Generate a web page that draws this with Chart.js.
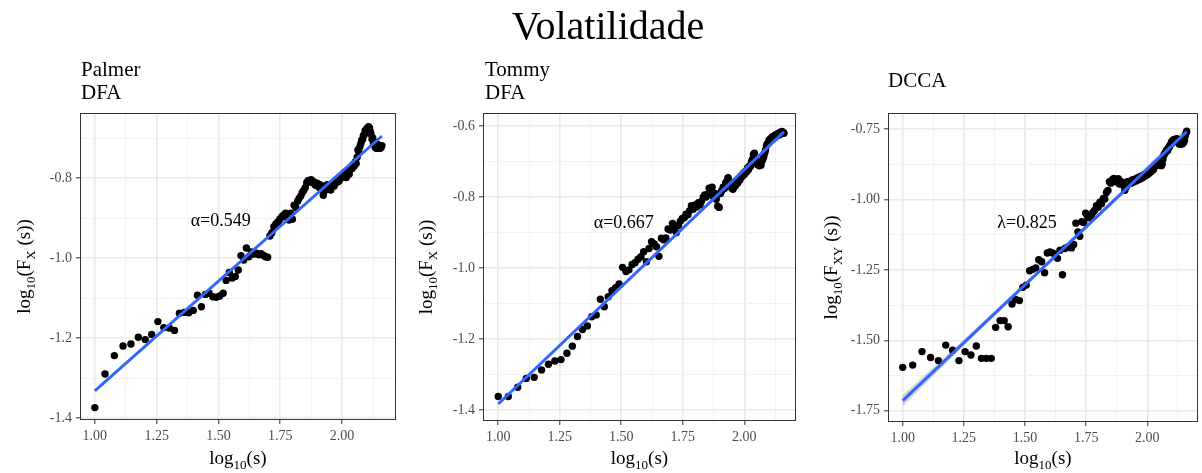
<!DOCTYPE html>
<html><head><meta charset="utf-8">
<script src="https://cdn.jsdelivr.net/npm/chart.js@4.4.1/dist/chart.umd.min.js"></script>
<style>
html,body{margin:0;padding:0;background:#fff;width:1202px;height:473px;overflow:hidden;position:relative;font-family:'Liberation Serif',serif;}
canvas{position:absolute;top:0;}
.t{position:absolute;color:#000;white-space:nowrap;font-family:'Liberation Serif',serif;}
</style></head><body>
<canvas id="c1" width="400" height="473" style="left:0px"></canvas>
<canvas id="c2" width="400" height="473" style="left:400px"></canvas>
<canvas id="c3" width="402" height="473" style="left:800px"></canvas>
<div class="t" style="left:0;width:1216px;text-align:center;top:6px;font-size:40px;line-height:40px;">Volatilidade</div>
<div class="t" style="left:81px;top:58px;font-size:21px;line-height:23px;">Palmer<br>DFA</div>
<div class="t" style="left:485px;top:58px;font-size:21px;line-height:23px;">Tommy<br>DFA</div>
<div class="t" style="left:888px;top:69px;font-size:21px;line-height:23px;">DCCA</div>
<script>
// log10(s) for s = 10 .. 145
const logS = [1.000,1.041,1.079,1.114,1.146,1.176,1.204,1.230,1.255,1.279,
1.301,1.322,1.342,1.362,1.380,1.398,1.415,1.431,1.447,1.462,
1.477,1.491,1.505,1.519,1.531,1.544,1.556,1.568,1.580,1.591,
1.602,1.613,1.623,1.633,1.643,1.653,1.663,1.672,1.681,1.690,
1.699,1.708,1.716,1.724,1.732,1.740,1.748,1.756,1.763,1.771,
1.778,1.785,1.792,1.799,1.806,1.813,1.820,1.826,1.833,1.839,
1.845,1.851,1.857,1.863,1.869,1.875,1.881,1.886,1.892,1.898,
1.903,1.908,1.914,1.919,1.924,1.929,1.934,1.940,1.944,1.949,
1.954,1.959,1.964,1.968,1.973,1.978,1.982,1.987,1.991,1.996,
2.000,2.004,2.009,2.013,2.017,2.021,2.025,2.029,2.033,2.037,
2.041,2.045,2.049,2.053,2.057,2.061,2.064,2.068,2.072,2.076,
2.079,2.083,2.086,2.090,2.093,2.097,2.100,2.104,2.107,2.111,
2.114,2.117,2.121,2.124,2.127,2.130,2.134,2.137,2.140,2.143,
2.146,2.149,2.152,2.155,2.158,2.161];

const palmerY = [-1.374,-1.290,-1.244,-1.220,-1.215,-1.198,-1.204,-1.191,-1.159,-1.174,
-1.175,-1.181,-1.138,-1.136,-1.137,-1.131,-1.093,-1.122,-1.091,-1.088,
-1.097,-1.098,-1.095,-1.088,-1.056,-1.036,-1.050,-1.046,-1.030,-0.994,
-1.005,-0.975,-0.997,-0.985,-0.990,-0.988,-0.992,-0.989,-0.993,-0.997,
-0.998,-0.945,-0.937,-0.922,-0.915,-0.910,-0.903,-0.897,-0.893,-0.888,
-0.900,-0.905,-0.888,-0.903,-0.868,-0.874,-0.858,-0.851,-0.845,-0.836,
-0.831,-0.824,-0.812,-0.806,-0.809,-0.804,-0.812,-0.810,-0.818,-0.813,
-0.815,-0.824,-0.818,-0.830,-0.843,-0.832,-0.826,-0.817,-0.828,-0.822,
-0.830,-0.818,-0.812,-0.820,-0.806,-0.811,-0.802,-0.808,-0.797,-0.800,
-0.792,-0.797,-0.786,-0.791,-0.799,-0.790,-0.784,-0.790,-0.778,-0.772,
-0.776,-0.766,-0.770,-0.760,-0.764,-0.748,-0.730,-0.735,-0.722,-0.714,
-0.706,-0.703,-0.694,-0.692,-0.682,-0.686,-0.676,-0.680,-0.672,-0.675,
-0.684,-0.690,-0.703,-0.700,-0.714,-0.710,-0.724,-0.718,-0.726,-0.716,
-0.724,-0.718,-0.726,-0.720,-0.724,-0.719];

const tommyY = [-1.362,-1.362,-1.336,-1.311,-1.308,-1.287,-1.271,-1.262,-1.258,-1.240,
-1.220,-1.193,-1.173,-1.163,-1.137,-1.132,-1.088,-1.109,-1.081,-1.064,
-1.055,-1.045,-0.998,-1.010,-1.005,-0.990,-0.985,-0.975,-0.968,-0.954,
-0.982,-0.945,-0.926,-0.931,-0.940,-0.967,-0.916,-0.920,-0.915,-0.890,
-0.893,-0.874,-0.885,-0.900,-0.880,-0.868,-0.860,-0.858,-0.848,-0.850,
-0.838,-0.824,-0.834,-0.822,-0.828,-0.816,-0.822,-0.812,-0.800,-0.794,
-0.800,-0.792,-0.775,-0.782,-0.772,-0.800,-0.790,-0.806,-0.826,-0.829,
-0.790,-0.782,-0.772,-0.776,-0.760,-0.755,-0.745,-0.756,-0.762,-0.775,
-0.778,-0.770,-0.768,-0.756,-0.760,-0.748,-0.752,-0.740,-0.742,-0.733,
-0.736,-0.728,-0.729,-0.718,-0.722,-0.712,-0.714,-0.700,-0.694,-0.680,
-0.676,-0.694,-0.700,-0.708,-0.702,-0.712,-0.705,-0.710,-0.698,-0.692,
-0.686,-0.676,-0.668,-0.656,-0.650,-0.648,-0.640,-0.642,-0.635,-0.638,
-0.630,-0.636,-0.628,-0.632,-0.625,-0.628,-0.622,-0.626,-0.620,-0.624,
-0.618,-0.620,-0.615,-0.619,-0.617,-0.620];

const dccaY = [-1.596,-1.588,-1.540,-1.561,-1.572,-1.517,-1.535,-1.572,-1.540,-1.552,
-1.520,-1.564,-1.564,-1.564,-1.454,-1.430,-1.430,-1.452,-1.371,-1.355,
-1.359,-1.312,-1.304,-1.253,-1.248,-1.243,-1.214,-1.221,-1.260,-1.190,
-1.186,-1.190,-1.195,-1.209,-1.180,-1.267,-1.174,-1.170,-1.168,-1.172,
-1.160,-1.084,-1.115,-1.131,-1.079,-1.082,-1.049,-1.060,-1.065,-1.055,
-1.045,-1.038,-1.022,-1.028,-1.010,-1.015,-0.996,-0.998,-0.975,-0.968,
-0.937,-0.942,-0.930,-0.925,-0.932,-0.938,-0.926,-0.945,-0.936,-0.942,
-0.950,-0.967,-0.955,-0.937,-0.944,-0.935,-0.942,-0.930,-0.938,-0.928,
-0.934,-0.924,-0.930,-0.920,-0.926,-0.916,-0.922,-0.912,-0.917,-0.908,
-0.912,-0.902,-0.906,-0.896,-0.900,-0.890,-0.894,-0.884,-0.880,-0.874,
-0.878,-0.868,-0.866,-0.876,-0.880,-0.874,-0.856,-0.842,-0.836,-0.830,
-0.824,-0.826,-0.816,-0.814,-0.806,-0.802,-0.794,-0.796,-0.788,-0.790,
-0.786,-0.790,-0.784,-0.794,-0.797,-0.803,-0.799,-0.804,-0.798,-0.802,
-0.800,-0.796,-0.790,-0.775,-0.765,-0.758];

// fitted regression lines (end points)
const fitX = [1.000, 2.161];
const palmerFit = [-1.332, -0.695];
const tommyFit = [-1.383, -0.616];
const dccaFit = [-1.714, -0.759];
// confidence band of DCCA fit
const dccaBandX = [1.000, 1.300, 1.580, 1.900, 2.161];
const dccaBandHi = [-1.694, -1.457, -1.231, -0.964, -0.743];
const dccaBandLo = [-1.734, -1.477, -1.243, -0.982, -0.775];

// tick labels
const xMajor = [1.00, 1.25, 1.50, 1.75, 2.00];
const xMinor = [1.125, 1.375, 1.625, 1.875, 2.125];
const palmerYMajor = [-1.4, -1.2, -1.0, -0.8];
const palmerYMinor = [-1.3, -1.1, -0.9, -0.7];
const tommyYMajor = [-1.4, -1.2, -1.0, -0.8, -0.6];
const tommyYMinor = [-1.3, -1.1, -0.9, -0.7];
const dccaYMajor = [-1.75, -1.50, -1.25, -1.00, -0.75];
const dccaYMinor = [-1.625, -1.375, -1.125, -0.875];

const SERIF = "'Liberation Serif', 'Times New Roman', serif";
const MAIN_FONT = "19px " + SERIF;
const SUB_FONT = "13px " + SERIF;

function isIn(v, arr) { return arr.some(m => Math.abs(m - v) < 1e-9); }

function drawRich(ctx, segs, cx, cy, vertical) {
  const fonts = segs.map(s => s[1] ? SUB_FONT : MAIN_FONT);
  let total = 0;
  const widths = segs.map((s, i) => { ctx.font = fonts[i]; const w = ctx.measureText(s[0]).width; total += w; return w; });
  ctx.save();
  ctx.translate(cx, cy);
  if (vertical) ctx.rotate(-Math.PI / 2);
  ctx.textAlign = 'left'; ctx.textBaseline = 'alphabetic'; ctx.fillStyle = '#000';
  let x = -total / 2;
  segs.forEach((s, i) => { ctx.font = fonts[i]; ctx.fillText(s[0], x, s[1] ? 10 : 5); x += widths[i]; });
  ctx.restore();
}

const decor = {
  id: 'decor',
  afterDraw(chart, args, o) {
    const ctx = chart.ctx, a = chart.chartArea;
    ctx.save();
    ctx.strokeStyle = '#333333'; ctx.lineWidth = 1;
    ctx.strokeRect(a.left + 0.5, a.top + 0.5, a.right - a.left - 1, a.bottom - a.top - 1);
    ctx.fillStyle = '#000'; ctx.font = '18px ' + SERIF; ctx.textAlign = 'center'; ctx.textBaseline = 'middle';
    ctx.fillText(o.note, chart.scales.x.getPixelForValue(o.noteX), chart.scales.y.getPixelForValue(o.noteY));
    drawRich(ctx, o.xTitle, (a.left + a.right) / 2, 459, false);
    drawRich(ctx, o.yTitle, a.left - o.yOff, (a.top + a.bottom) / 2, true);
    ctx.restore();
  }
};

function makePanel(id, p) {
  const W = p.W, H = 473;
  const xTicks = xMajor.concat(xMinor).sort((a, b) => a - b);
  const yTicks = p.yMajor.concat(p.yMinor).sort((a, b) => a - b);
  const gridOpts = (major) => ({
    color: c => (c.tick && isIn(c.tick.value, major)) ? '#e9e9e9' : '#f3f3f3',
    lineWidth: c => (c.tick && isIn(c.tick.value, major)) ? 1.6 : 1,
    tickColor: c => (c.tick && isIn(c.tick.value, major)) ? '#333333' : 'rgba(0,0,0,0)',
    tickWidth: 1, tickLength: 4, drawTicks: true
  });
  const datasets = [
    { type: 'line', data: fitX.map((x, i) => ({ x: x, y: p.fit[i] })), borderColor: '#3366FF', borderWidth: 3, pointRadius: 0, fill: false, order: 0 },
    { type: 'scatter', data: logS.map((x, i) => ({ x: x, y: p.ys[i] })), backgroundColor: '#000', borderColor: '#000', pointRadius: 3.7, pointBorderWidth: 0, order: 1 }
  ];
  if (p.band) {
    datasets.push({ type: 'line', data: dccaBandX.map((x, i) => ({ x: x, y: dccaBandHi[i] })), borderWidth: 0, pointRadius: 0, fill: '+1', backgroundColor: 'rgba(153,153,153,0.4)', order: 2 });
    datasets.push({ type: 'line', data: dccaBandX.map((x, i) => ({ x: x, y: dccaBandLo[i] })), borderWidth: 0, pointRadius: 0, fill: false, order: 3 });
  }
  new Chart(document.getElementById(id), {
    type: 'scatter',
    data: { datasets: datasets },
    options: {
      responsive: false, animation: false, events: [],
      layout: { padding: { top: p.area.top, right: W - p.area.right, bottom: 0, left: 0 } },
      plugins: { legend: { display: false }, tooltip: { enabled: false }, title: { display: false },
        decor: { note: p.note, noteX: p.noteX, noteY: p.noteY, xTitle: p.xTitle, yTitle: p.yTitle, yOff: p.yOff } },
      scales: {
        x: {
          type: 'linear', position: 'bottom', min: p.xMin, max: p.xMax,
          afterBuildTicks: s => { s.ticks = xTicks.map(v => ({ value: v })); },
          afterFit: s => { s.height = H - p.area.bottom; },
          ticks: { callback: v => isIn(v, xMajor) ? v.toFixed(2) : '', font: { family: SERIF, size: 14 }, color: '#4d4d4d', padding: 4, maxRotation: 0, autoSkip: false },
          grid: gridOpts(xMajor), border: { display: false }
        },
        y: {
          type: 'linear', position: 'left', min: p.yMin, max: p.yMax,
          afterBuildTicks: s => { s.ticks = yTicks.map(v => ({ value: v })); },
          afterFit: s => { s.width = p.area.left; },
          ticks: { callback: v => isIn(v, p.yMajor) ? v.toFixed(p.dec) : '', font: { family: SERIF, size: 14 }, color: '#4d4d4d', padding: 4, autoSkip: false },
          grid: gridOpts(p.yMajor), border: { display: false }
        }
      }
    },
    plugins: [decor]
  });
}

const xTitleSegs = [['log', 0], ['10', 1], ['(s)', 0]];

makePanel('c1', { W: 400, area: { left: 80, right: 397, top: 113, bottom: 420 },
  xMin: 0.940, xMax: 2.218, yMin: -1.405, yMax: -0.6375, yMajor: palmerYMajor, yMinor: palmerYMinor, dec: 1,
  ys: palmerY, fit: palmerFit, note: 'α=0.549', noteX: 1.509, noteY: -0.907,
  xTitle: xTitleSegs, yTitle: [['log', 0], ['10', 1], ['(F', 0], ['X', 1], [' (s))', 0]], yOff: 55 });

makePanel('c2', { W: 400, area: { left: 83, right: 399, top: 113, bottom: 421 },
  xMin: 0.938, xMax: 2.210, yMin: -1.431, yMax: -0.563, yMajor: tommyYMajor, yMinor: tommyYMinor, dec: 1,
  ys: tommyY, fit: tommyFit, note: 'α=0.667', noteX: 1.510, noteY: -0.874,
  xTitle: xTitleSegs, yTitle: [['log', 0], ['10', 1], ['(F', 0], ['X', 1], [' (s))', 0]], yOff: 56 });

makePanel('c3', { W: 402, area: { left: 88, right: 401, top: 113, bottom: 422 },
  xMin: 0.940, xMax: 2.207, yMin: -1.790, yMax: -0.693, yMajor: dccaYMajor, yMinor: dccaYMinor, dec: 2,
  ys: dccaY, fit: dccaFit, note: 'λ=0.825', noteX: 1.508, noteY: -1.085, band: true,
  xTitle: xTitleSegs, yTitle: [['log', 0], ['10', 1], ['(F', 0], ['XY', 1], [' (s))', 0]], yOff: 56 });
</script>
</body></html>
